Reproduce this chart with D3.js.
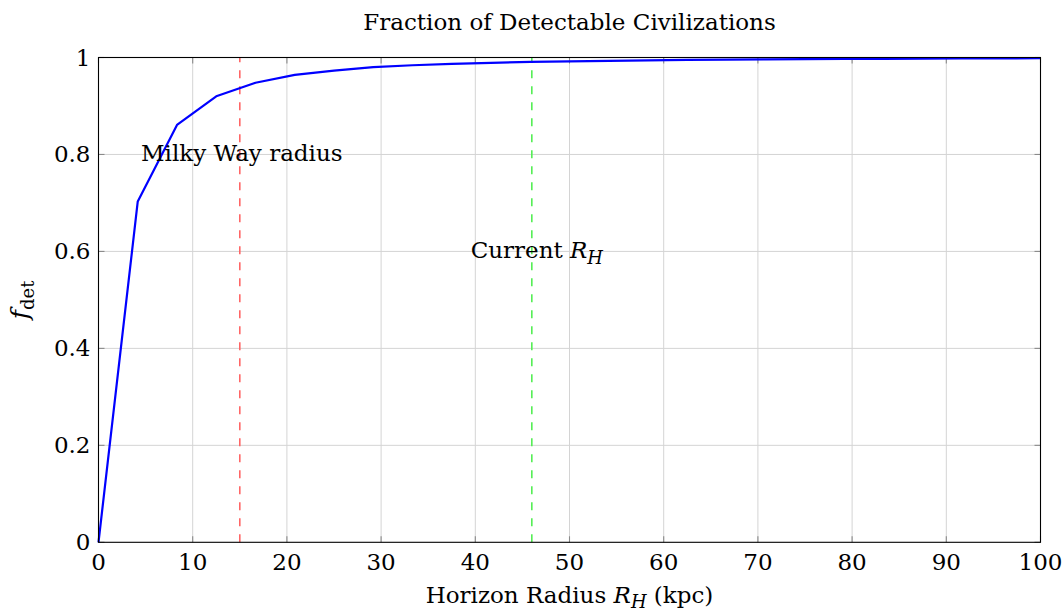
<!DOCTYPE html>
<html>
<head>
<meta charset="utf-8">
<script src="https://cdn.jsdelivr.net/npm/d3@7"></script>
<style>
  body { margin: 0; background: #fff; }
  svg { display: block; }
  text { font-family: "DejaVu Serif", "Liberation Serif", serif; fill: #000; }
</style>
</head>
<body>
<svg id="chart" width="1063" height="614"></svg>
<script>
// Data
const radiusKpc = [0, 4.167, 8.333, 12.5, 16.667, 20.833, 25, 29.167, 33.333, 37.5, 41.667, 45.833, 50,
                   54.167, 58.333, 62.5, 66.667, 70.833, 75, 79.167, 83.333, 87.5, 91.667, 95.833, 100];
const fDet = [0, 0.703, 0.861, 0.920, 0.948, 0.964, 0.973, 0.980, 0.984, 0.987, 0.989, 0.991, 0.992,
              0.993, 0.994, 0.995, 0.9955, 0.996, 0.9965, 0.997, 0.9972, 0.9975, 0.998, 0.998, 0.9985];
const xTicks = [0, 10, 20, 30, 40, 50, 60, 70, 80, 90, 100];
const yTicks = [0, 0.2, 0.4, 0.6, 0.8, 1];
const milkyWayRadius = 15;
const currentRH = 46;
const annotations = [
  { x: 15, y: 0.8, text: "Milky Way radius", sub: null },
  { x: 46, y: 0.6, text: "Current ", italic: "R", sub: "H" }
];

const svg = d3.select("#chart");
const margin = { left: 98.5, right: 1040.5, top: 57.5, bottom: 542.3 };
const x = d3.scaleLinear().domain([0, 100]).range([margin.left, margin.right]);
const y = d3.scaleLinear().domain([0, 1]).range([margin.bottom, margin.top]);
const FS = 23;
const SUB = 0.78;

// grid
const g = svg.append("g");
g.selectAll("line.gx").data(xTicks.slice(1, -1)).join("line")
  .attr("x1", d => x(d)).attr("x2", d => x(d)).attr("y1", y(0)).attr("y2", y(1))
  .attr("stroke", "#d4d4d4").attr("stroke-width", 1);
g.selectAll("line.gy").data(yTicks.slice(1, -1)).join("line")
  .attr("x1", x(0)).attr("x2", x(100)).attr("y1", d => y(d)).attr("y2", d => y(d))
  .attr("stroke", "#d4d4d4").attr("stroke-width", 1);

// tick marks (inward, both sides)
const TL = 6;
xTicks.forEach(d => {
  g.append("line").attr("x1", x(d)).attr("x2", x(d)).attr("y1", y(0)).attr("y2", y(0) - TL).attr("stroke", "#8a8a8a").attr("stroke-width", 1.1);
  g.append("line").attr("x1", x(d)).attr("x2", x(d)).attr("y1", y(1)).attr("y2", y(1) + TL).attr("stroke", "#8a8a8a").attr("stroke-width", 1.1);
});
yTicks.forEach(d => {
  g.append("line").attr("x1", x(0)).attr("x2", x(0) + TL).attr("y1", y(d)).attr("y2", y(d)).attr("stroke", "#8a8a8a").attr("stroke-width", 1.1);
  g.append("line").attr("x1", x(100)).attr("x2", x(100) - TL).attr("y1", y(d)).attr("y2", y(d)).attr("stroke", "#8a8a8a").attr("stroke-width", 1.1);
});

// vertical reference lines
svg.append("line").attr("x1", x(milkyWayRadius)).attr("x2", x(milkyWayRadius)).attr("y1", y(0)).attr("y2", y(1))
  .attr("stroke", "#ff6666").attr("stroke-width", 1.6).attr("stroke-dasharray", "8,8");
svg.append("line").attr("x1", x(currentRH)).attr("x2", x(currentRH)).attr("y1", y(0)).attr("y2", y(1))
  .attr("stroke", "#55ee55").attr("stroke-width", 1.6).attr("stroke-dasharray", "8,8");

// curve
const line = d3.line().x((d, i) => x(radiusKpc[i])).y(d => y(d));
svg.append("path").datum(fDet).attr("d", line).attr("fill", "none")
  .attr("stroke", "#0000ff").attr("stroke-width", 2.2).attr("stroke-linejoin", "round");

// axis box
svg.append("rect").attr("x", x(0)).attr("y", y(1)).attr("width", x(100) - x(0)).attr("height", y(0) - y(1))
  .attr("fill", "none").attr("stroke", "#000").attr("stroke-width", 1.1);

// tick labels
svg.selectAll("text.xt").data(xTicks).join("text")
  .attr("x", d => x(d)).attr("y", y(0) + 28).attr("text-anchor", "middle")
  .attr("font-size", FS).text(d => d3.format("d")(d));
svg.selectAll("text.yt").data(yTicks).join("text")
  .attr("x", x(0) - 8).attr("y", d => y(d) + 8).attr("text-anchor", "end")
  .attr("font-size", FS).text(d => d === 0 || d === 1 ? String(d) : d.toFixed(1));

// annotations
annotations.forEach(a => {
  const t = svg.append("text").attr("x", x(a.x) + (a.italic ? 5 : 2)).attr("y", y(a.y) + 7).attr("text-anchor", "middle").attr("font-size", FS);
  t.append("tspan").text(a.text);
  if (a.italic) {
    t.append("tspan").attr("font-style", "italic").text(a.italic);
    t.append("tspan").attr("font-style", "italic").attr("font-size", FS * SUB).attr("dy", 6).text(a.sub);
  }
});

// title
svg.append("text").attr("x", x(50)).attr("y", 30).attr("text-anchor", "middle").attr("font-size", FS)
  .text("Fraction of Detectable Civilizations");

// x label
const xl = svg.append("text").attr("x", x(50)).attr("y", 603).attr("text-anchor", "middle").attr("font-size", FS);
xl.append("tspan").text("Horizon Radius ");
xl.append("tspan").attr("font-style", "italic").text("R");
xl.append("tspan").attr("font-style", "italic").attr("font-size", FS * SUB).attr("dy", 5).text("H");
xl.append("tspan").attr("dy", -5).text(" (kpc)");

// y label
const yl = svg.append("text").attr("transform", `translate(28, ${y(0.5)}) rotate(-90)`).attr("text-anchor", "middle").attr("font-size", FS + 2);
yl.append("tspan").attr("font-style", "italic").text("f");
yl.append("tspan").attr("font-size", FS * SUB).attr("dy", 6).text("det");
</script>
</body>
</html>
